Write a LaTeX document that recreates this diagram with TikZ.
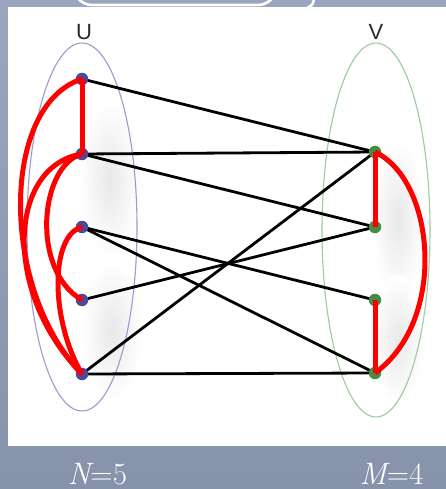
\documentclass[tikz,border=0pt]{standalone}
\usepackage{fontspec}
\newfontfamily\lsans{Liberation Sans}
\definecolor{bgtop}{HTML}{9AA5BF}
\definecolor{bgbot}{HTML}{8792AB}
\definecolor{unodec}{HTML}{4B4B99}
\definecolor{vnodec}{HTML}{468C46}
\definecolor{uell}{HTML}{9A9AD0}
\definecolor{vell}{HTML}{9CCB9C}
\definecolor{redc}{HTML}{FF0000}
\definecolor{lblc}{HTML}{2A2A2A}
\tikzset{
  unode/.style={circle,fill=unodec,inner sep=0pt,minimum size=12.5pt},
  vnode/.style={circle,fill=vnodec,inner sep=0pt,minimum size=12.5pt},
  blackedge/.style={black,line width=2.8pt},
  rededge/.style={redc,line width=5pt,line join=round},
  sidelabel/.style={lblc,font=\lsans\fontsize{22}{22}\selectfont,anchor=base,inner sep=0pt},
  countlabel/.style={white,font=\fontsize{31}{31}\selectfont,anchor=base,inner sep=0pt},
  glow/.style={inner color=black!9,outer color=white}
}
\begin{document}
\begin{tikzpicture}[x=1pt,y=-1pt]
\useasboundingbox (0,0) rectangle (446,489);
% background
\shade[top color=bgtop,bottom color=bgbot] (0,0) rectangle (446,489);
% decoration at top
\draw[white,line width=2.6pt,rounded corners=18pt] (74,-25) -- (74,5) -- (276,5) -- (276,-25);
\draw[white,line width=2.6pt] (314,-2) .. controls (313,5) .. (305,9);
% white panel
\fill[white] (8,7) rectangle (446,446);
% soft shadows
\shade[glow] (110,180) ellipse (30pt and 80pt);
\shade[glow] (112,330) ellipse (30pt and 70pt);
\shade[glow] (398,220) ellipse (26pt and 80pt);
\shade[glow] (398,340) ellipse (26pt and 65pt);
% sets
\draw[uell,line width=1.1pt] (82,227) ellipse (55pt and 184pt);
\draw[vell,line width=1.1pt] (376,230) ellipse (54pt and 187pt);
% vertex positions
\coordinate (u1) at (82,79);
\coordinate (u2) at (82,154);
\coordinate (u3) at (82,227);
\coordinate (u4) at (82,300);
\coordinate (u5) at (82,374);
\coordinate (v1) at (375,152);
\coordinate (v2) at (375,227);
\coordinate (v3) at (375,300);
\coordinate (v4) at (375,373);
% black edges
\draw[blackedge] (u1) -- (v1);
\draw[blackedge] (u2) -- (v1);
\draw[blackedge] (u2) -- (v2);
\draw[blackedge] (u3) -- (v3);
\draw[blackedge] (u3) -- (v4);
\draw[blackedge] (u4) -- (v2);
\draw[blackedge] (u5) -- (v1);
\draw[blackedge] (u5) -- (v4);
% vertices
\node[unode] (U1) at (u1) {};
\node[unode] (U2) at (u2) {};
\node[unode] (U3) at (u3) {};
\node[unode] (U4) at (u4) {};
\node[unode] (U5) at (u5) {};
\node[vnode] (V1) at (v1) {};
\node[vnode] (V2) at (v2) {};
\node[vnode] (V3) at (v3) {};
\node[vnode] (V4) at (v4) {};
% red edges
\draw[rededge] (u1) -- (u2);
\draw[rededge] (u1) .. controls (0,105) and (0,290) .. (u5);
\draw[rededge] (u2) .. controls (10,165) and (0,290) .. (u5);
\draw[rededge] (u2) .. controls (40,165) and (30,270) .. (u4);
\draw[rededge] (u3) .. controls (50,235) and (50,320) .. (u5);
\draw[rededge] (v1) -- (v2);
\draw[rededge] (v3) -- (v4);
\draw[rededge] (v1) .. controls (435,180) and (448,320) .. (v4);
% labels
\node[sidelabel] (lu) at (84,40) {U};
\node[sidelabel] (lv) at (376,40) {V};
\node[countlabel] (ln) at (97.5,484) {\itshape N\upshape=5};
\node[countlabel] (lm) at (391.5,484) {\itshape M\upshape=4};
\end{tikzpicture}
\end{document}
